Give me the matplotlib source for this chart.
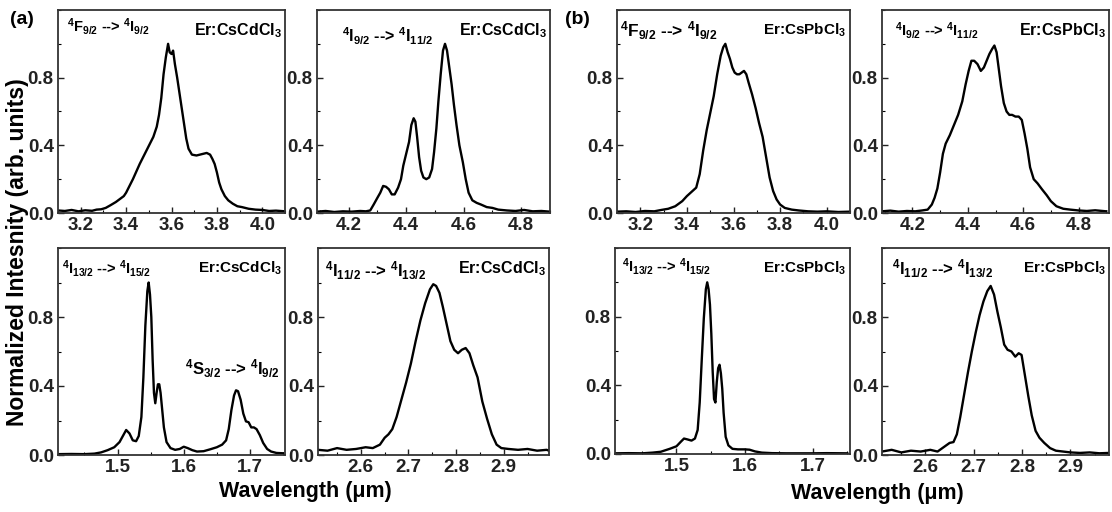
import matplotlib
matplotlib.use("Agg")
import matplotlib.pyplot as plt
from matplotlib.ticker import MultipleLocator

plt.rcParams['font.family'] = ['Liberation Sans', 'DejaVu Sans']
plt.rcParams['font.weight'] = 'bold'
plt.rcParams['mathtext.fontset'] = 'custom'
plt.rcParams['mathtext.rm'] = 'Liberation Sans:bold'
plt.rcParams['mathtext.default'] = 'regular'

# Data ##############################################################################

# (a) Er:CsCdCl3
cd_f92_x = [3.10, 3.13, 3.16, 3.19, 3.22, 3.25, 3.27, 3.29, 3.31, 3.33, 3.355, 3.375,
            3.39, 3.40, 3.415, 3.43, 3.445, 3.46, 3.475, 3.49, 3.505, 3.52, 3.535, 3.545,
            3.555, 3.565, 3.575, 3.585, 3.592, 3.60, 3.607, 3.615, 3.625, 3.635, 3.645,
            3.655, 3.665, 3.675, 3.69, 3.71, 3.725, 3.74, 3.755, 3.77, 3.78, 3.79, 3.80,
            3.81, 3.82, 3.835, 3.85, 3.87, 3.89, 3.91, 3.94, 3.97, 4.00, 4.03, 4.06, 4.10]
cd_f92_y = [0.015, 0.012, 0.018, 0.010, 0.016, 0.013, 0.020, 0.022, 0.030, 0.045, 0.065, 0.085,
            0.10, 0.12, 0.16, 0.20, 0.245, 0.29, 0.33, 0.37, 0.41, 0.45, 0.51, 0.58,
            0.68, 0.82, 0.92, 1.0, 0.95, 0.94, 0.96, 0.88, 0.80, 0.71, 0.62,
            0.53, 0.44, 0.38, 0.345, 0.34, 0.345, 0.35, 0.355, 0.345, 0.32, 0.29, 0.24,
            0.18, 0.14, 0.10, 0.075, 0.055, 0.04, 0.035, 0.025, 0.02, 0.018, 0.012, 0.014, 0.010]

cd_i92_x = [4.09, 4.12, 4.15, 4.18, 4.21, 4.24, 4.26, 4.275, 4.287, 4.30, 4.31, 4.32,
            4.33, 4.34, 4.35, 4.36, 4.372, 4.382, 4.39, 4.40, 4.41, 4.418, 4.426, 4.432,
            4.438, 4.445, 4.452, 4.46, 4.47, 4.48, 4.49, 4.497, 4.505, 4.512, 4.52, 4.528,
            4.535, 4.542, 4.55, 4.558, 4.566, 4.575, 4.585, 4.597, 4.607, 4.617, 4.63,
            4.645, 4.66, 4.68, 4.70, 4.72, 4.75, 4.78, 4.81, 4.84, 4.87, 4.90]
cd_i92_y = [0.008, 0.012, 0.006, 0.010, 0.008, 0.012, 0.010, 0.015, 0.05, 0.09, 0.12, 0.16,
            0.155, 0.14, 0.11, 0.11, 0.15, 0.20, 0.28, 0.35, 0.42, 0.52, 0.56, 0.54,
            0.45, 0.33, 0.25, 0.21, 0.20, 0.21, 0.26, 0.36, 0.50, 0.66, 0.82, 0.96,
            1.0, 0.96, 0.86, 0.76, 0.64, 0.52, 0.40, 0.30, 0.20, 0.12, 0.075,
            0.06, 0.05, 0.035, 0.03, 0.02, 0.015, 0.012, 0.018, 0.010, 0.012, 0.008]

cd_i132_x = [1.41, 1.43, 1.45, 1.465, 1.475, 1.485, 1.495, 1.503, 1.508, 1.513, 1.518, 1.523,
             1.528, 1.532, 1.536, 1.539, 1.542, 1.545, 1.547, 1.549, 1.551, 1.553, 1.555,
             1.557, 1.559, 1.561, 1.563, 1.565, 1.567, 1.57, 1.574, 1.58, 1.587, 1.594,
             1.60, 1.606, 1.613, 1.62, 1.63, 1.64, 1.65, 1.658, 1.664, 1.668, 1.672, 1.676,
             1.679, 1.682, 1.686, 1.69, 1.694, 1.698, 1.702, 1.706, 1.71, 1.715, 1.72,
             1.726, 1.732, 1.74, 1.75]
cd_i132_y = [0.005, 0.006, 0.005, 0.008, 0.015, 0.028, 0.045, 0.075, 0.11, 0.145, 0.125, 0.085,
             0.08, 0.11, 0.22, 0.45, 0.75, 0.95, 1.0, 0.93, 0.80, 0.55, 0.36,
             0.30, 0.36, 0.41, 0.41, 0.36, 0.28, 0.16, 0.075, 0.04, 0.03, 0.035,
             0.048, 0.04, 0.028, 0.02, 0.022, 0.033, 0.045, 0.06, 0.085, 0.15, 0.26, 0.345,
             0.375, 0.37, 0.32, 0.24, 0.195, 0.19, 0.16, 0.16, 0.15, 0.115, 0.07,
             0.035, 0.02, 0.012, 0.01]

cd_i112_x = [2.51, 2.53, 2.55, 2.57, 2.59, 2.61, 2.625, 2.64, 2.65, 2.658, 2.666, 2.675,
             2.685, 2.695, 2.705, 2.715, 2.725, 2.735, 2.745, 2.752, 2.758, 2.765, 2.772,
             2.78, 2.788, 2.796, 2.804, 2.812, 2.82, 2.828, 2.836, 2.845, 2.855, 2.865,
             2.875, 2.885, 2.895, 2.91, 2.93, 2.95, 2.97, 2.99, 3.0]
cd_i112_y = [0.03, 0.025, 0.04, 0.03, 0.035, 0.045, 0.04, 0.06, 0.10, 0.12, 0.15, 0.22,
             0.32, 0.42, 0.53, 0.66, 0.78, 0.88, 0.96, 0.99, 0.98, 0.94, 0.86,
             0.76, 0.66, 0.61, 0.59, 0.61, 0.62, 0.59, 0.52, 0.45, 0.31, 0.21,
             0.12, 0.06, 0.04, 0.035, 0.03, 0.035, 0.025, 0.03, 0.02]

# (b) Er:CsPbCl3
pb_f92_x = [3.10, 3.14, 3.18, 3.22, 3.26, 3.29, 3.32, 3.35, 3.38, 3.40, 3.42, 3.44,
            3.455, 3.47, 3.485, 3.50, 3.515, 3.53, 3.545, 3.556, 3.565, 3.575, 3.585,
            3.595, 3.605, 3.615, 3.625, 3.635, 3.645, 3.655, 3.665, 3.68, 3.695, 3.71,
            3.725, 3.74, 3.755, 3.77, 3.785, 3.80, 3.82, 3.85, 3.88, 3.92, 3.96, 4.00,
            4.05, 4.10]
pb_f92_y = [0.008, 0.010, 0.006, 0.012, 0.010, 0.018, 0.025, 0.04, 0.07, 0.10, 0.125, 0.15,
            0.23, 0.37, 0.49, 0.59, 0.69, 0.82, 0.93, 0.98, 1.0, 0.95, 0.91,
            0.86, 0.83, 0.82, 0.82, 0.83, 0.84, 0.82, 0.77, 0.70, 0.62, 0.53,
            0.45, 0.33, 0.21, 0.13, 0.08, 0.05, 0.03, 0.02, 0.015, 0.01, 0.008, 0.010,
            0.006, 0.008]

pb_i92_x = [4.09, 4.12, 4.15, 4.18, 4.21, 4.235, 4.255, 4.27, 4.28, 4.29, 4.30, 4.31,
            4.32, 4.335, 4.35, 4.365, 4.38, 4.392, 4.403, 4.413, 4.423, 4.435, 4.447,
            4.458, 4.468, 4.478, 4.488, 4.496, 4.504, 4.512, 4.52, 4.53, 4.54, 4.55,
            4.56, 4.572, 4.584, 4.595, 4.605, 4.615, 4.625, 4.638, 4.652, 4.668, 4.685,
            4.70, 4.72, 4.745, 4.77, 4.80, 4.83, 4.86, 4.90]
pb_i92_y = [0.010, 0.014, 0.008, 0.012, 0.010, 0.015, 0.02, 0.05, 0.09, 0.145, 0.24, 0.35,
            0.41, 0.46, 0.52, 0.58, 0.66, 0.76, 0.84, 0.90, 0.90, 0.88, 0.84,
            0.86, 0.90, 0.94, 0.97, 0.99, 0.95, 0.85, 0.75, 0.65, 0.60, 0.58,
            0.58, 0.57, 0.57, 0.55, 0.47, 0.38, 0.27, 0.20, 0.175, 0.14, 0.105,
            0.07, 0.04, 0.025, 0.02, 0.015, 0.012, 0.016, 0.010]

pb_i132_x = [1.41, 1.43, 1.45, 1.465, 1.477, 1.49, 1.50, 1.506, 1.511, 1.516, 1.522, 1.527,
             1.531, 1.534, 1.537, 1.54, 1.543, 1.545, 1.547, 1.549, 1.551, 1.553, 1.555,
             1.557, 1.559, 1.561, 1.563, 1.565, 1.567, 1.569, 1.572, 1.576, 1.582, 1.59,
             1.60, 1.607, 1.615, 1.625, 1.64, 1.66, 1.68, 1.70, 1.72, 1.75]
pb_i132_y = [0.004, 0.005, 0.004, 0.008, 0.013, 0.03, 0.045, 0.07, 0.09, 0.085, 0.078, 0.09,
             0.14, 0.30, 0.55, 0.79, 0.96, 1.0, 0.96, 0.87, 0.70, 0.48, 0.32,
             0.30, 0.42, 0.50, 0.52, 0.47, 0.38, 0.24, 0.10, 0.05, 0.03, 0.027,
             0.027, 0.025, 0.015, 0.008, 0.005, 0.004, 0.004, 0.004, 0.005, 0.004]

pb_i112_x = [2.51, 2.53, 2.55, 2.57, 2.59, 2.61, 2.625, 2.64, 2.65, 2.658, 2.665, 2.672,
             2.68, 2.688, 2.696, 2.704, 2.712, 2.72, 2.728, 2.735, 2.742, 2.749, 2.756,
             2.763, 2.77, 2.778, 2.786, 2.793, 2.799, 2.806, 2.813, 2.82, 2.828, 2.836,
             2.846, 2.858, 2.87, 2.885, 2.9, 2.92, 2.94, 2.96, 2.98]
pb_i112_y = [0.02, 0.03, 0.015, 0.025, 0.02, 0.03, 0.02, 0.05, 0.07, 0.075, 0.12, 0.22,
             0.35, 0.48, 0.60, 0.71, 0.81, 0.89, 0.95, 0.98, 0.93, 0.83, 0.74,
             0.64, 0.61, 0.60, 0.57, 0.59, 0.58, 0.46, 0.34, 0.23, 0.14, 0.10,
             0.07, 0.04, 0.025, 0.02, 0.015, 0.012, 0.015, 0.01, 0.012]

# Labels
host_a = 'Er:CsCdCl$_3$'
host_b = 'Er:CsPbCl$_3$'
trans_f92 = '$^4$F$_{9/2}$ --> $^4$I$_{9/2}$'
trans_i92 = '$^4$I$_{9/2}$ --> $^4$I$_{11/2}$'
trans_i132 = '$^4$I$_{13/2}$ --> $^4$I$_{15/2}$'
trans_s32 = '$^4$S$_{3/2}$ --> $^4$I$_{9/2}$'
trans_i112 = '$^4$I$_{11/2}$ --> $^4$I$_{13/2}$'

# Figure ############################################################################

W, H = 1112, 512
fig = plt.figure(figsize=(W / 100, H / 100), dpi=100)


def add_panel(l, t, r, b):
    return fig.add_axes([l / W, 1 - b / H, (r - l) / W, (b - t) / H])


def style(ax, xlim, xmajor):
    ax.set_xlim(*xlim)
    ax.set_ylim(0, 1.2)
    ax.xaxis.set_major_locator(MultipleLocator(xmajor))
    ax.xaxis.set_minor_locator(MultipleLocator(xmajor / 2))
    ax.yaxis.set_minor_locator(MultipleLocator(0.2))
    ax.xaxis.set_major_formatter(plt.FormatStrFormatter('%.1f'))
    ax.yaxis.set_major_formatter(plt.FormatStrFormatter('%.1f'))
    ax.set_yticks([0.0, 0.4, 0.8])
    ax.tick_params(which='major', direction='in', length=4, width=1,
                   labelsize=13.5, pad=3, colors='#222222')
    ax.tick_params(which='minor', direction='in', length=2.5, width=0.8)
    for s in ax.spines.values():
        s.set_color('#333333')
        s.set_linewidth(1.3)


panels = [
    # (box, x, y, xlim, xmajor, host, transition, transition pos, transition size, host size)
    ((58, 10, 285, 213), cd_f92_x, cd_f92_y, (3.1, 4.1), 0.2, host_a, trans_f92, (0.04, 0.92), 10.5, 11.5),
    ((317, 10, 550, 213), cd_i92_x, cd_i92_y, (4.09, 4.9), 0.2, host_a, trans_i92, (0.107, 0.87), 11.5, 11.5),
    ((58, 248, 285, 455), cd_i132_x, cd_i132_y, (1.41, 1.753), 0.1, host_a, trans_i132, (0.018, 0.9), 10.5, 11),
    ((318, 248, 549, 455), cd_i112_x, cd_i112_y, (2.51, 2.995), 0.1, host_a, trans_i112, (0.03, 0.89), 12, 11.5),
    ((617, 10, 850, 213), pb_f92_x, pb_f92_y, (3.1, 4.1), 0.2, host_b, trans_f92, (0.013, 0.9), 12.5, 11),
    ((882, 10, 1109, 213), pb_i92_x, pb_i92_y, (4.09, 4.91), 0.2, host_b, trans_i92, (0.057, 0.9), 10.5, 11.5),
    ((615, 248, 850, 454), pb_i132_x, pb_i132_y, (1.41, 1.754), 0.1, host_b, trans_i132, (0.03, 0.91), 10.5, 11),
    ((882, 248, 1109, 455), pb_i112_x, pb_i112_y, (2.51, 2.98), 0.1, host_b, trans_i112, (0.043, 0.9), 12, 11),
]

axes = []
for box, x, y, xlim, xmajor, host, trans, tpos, tsize, hsize in panels:
    ax = add_panel(*box)
    ax.plot(x, y, color='black', lw=1.7)
    style(ax, xlim, xmajor)
    ax.text(tpos[0], tpos[1], trans, transform=ax.transAxes, fontsize=tsize,
            fontweight='bold', ha='left', va='center')
    ax.text(0.985, 0.9, host, transform=ax.transAxes, fontsize=hsize,
            fontweight='bold', ha='right', va='center')
    axes.append(ax)

# extra transition in the 1.5 um panel of (a)
axes[2].text(0.56, 0.415, trans_s32, transform=axes[2].transAxes, fontsize=12,
             fontweight='bold', ha='left', va='center')

fig.text(10 / W, 1 - 19 / H, '(a)', fontsize=14, fontweight='bold', va='center')
fig.text(565 / W, 1 - 19 / H, '(b)', fontsize=14, fontweight='bold', va='center')

fig.text(18 / W, 1 - 252 / H, 'Normalized Intesnity (arb. units)', rotation=90,
         fontsize=16.5, fontweight='bold', ha='center', va='center')
fig.text(305 / W, 1 - 491 / H, 'Wavelength (\u03bcm)', fontsize=15.5,
         fontweight='bold', ha='center', va='center')
fig.text(877 / W, 1 - 494 / H, 'Wavelength (\u03bcm)', fontsize=15.5,
         fontweight='bold', ha='center', va='center')

fig.savefig('out.png', dpi=100)
